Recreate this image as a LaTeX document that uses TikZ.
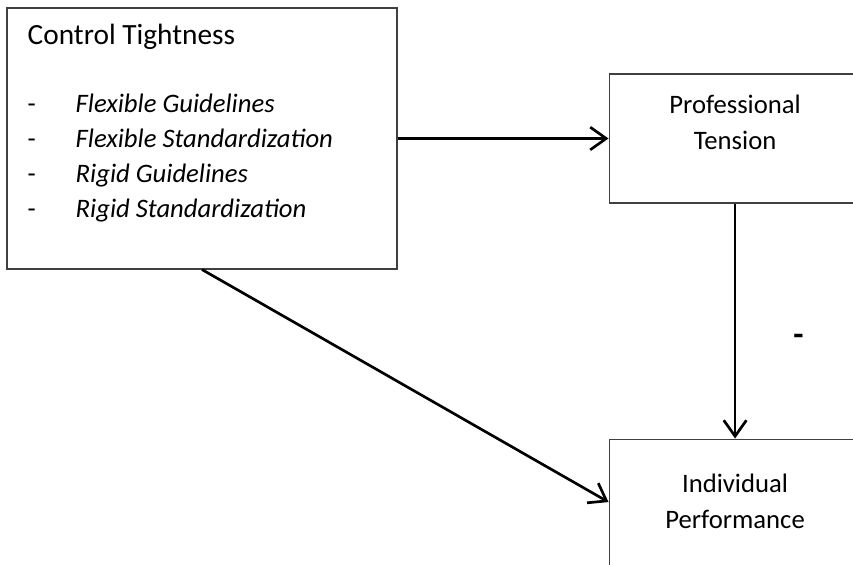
\documentclass[tikz,border=0pt]{standalone}
\usepackage{fontspec}
\setmainfont{Carlito}
\usetikzlibrary{positioning,arrows.meta}

\begin{document}
\begin{tikzpicture}[x=0.75pt, y=-0.75pt,
  box/.style={draw=black!75, line width=0.8pt, inner sep=0pt},
  ttl/.style={font=\fontsize{22}{26}\selectfont, inner sep=0pt},
  item/.style={font=\fontsize{20}{24}\selectfont, inner sep=0pt},
  lbl/.style={font=\fontsize{20}{27}\selectfont, align=center, inner sep=0pt},
  sign/.style={font=\fontsize{25}{28}\selectfont\bfseries, inner sep=0pt},
  arr/.style={-{Straight Barb[length=12pt, width=17pt, line width=2pt]}, line width=2pt}]
\clip (0,0) rectangle (853,564);
\node[box, minimum width=292.5pt, minimum height=195.75pt] (ct) at (202,138.5) {};
\node[box, minimum width=189pt, minimum height=96.75pt, right=158.25pt of ct] (pt) {};
\node[box, minimum width=189pt, minimum height=94.5pt, below=176.25pt of pt] (ip) {};
% text inside the boxes
\node[ttl, anchor=base west] (ctt) at ([shift={(21,37)}]ct.north west) {Control Tightness};
\foreach \t [count=\i from 0] in {Flexible Guidelines, Flexible Standardization,
    Rigid Guidelines, Rigid Standardization} {
  \node[item, anchor=base west] (d\i) at ([shift={(21,105+35*\i)}]ct.north west) {-};
  \node[item, anchor=base west] (it\i) at ([shift={(69,105+35*\i)}]ct.north west) {\textit{\t}};
}
\node[lbl, anchor=base] (ptl) at ([shift={(0,76)}]pt.north) {Professional\\Tension};
\node[lbl, anchor=base] (ipl) at ([shift={(0,90)}]ip.north) {Individual\\Performance};
% paths
\draw[arr] (ct.east) -- (pt.west);
\draw[arr] (pt.south) -- node[sign, pos=0.58, xshift=47.5pt] (neg) {-} (ip.north);
\draw[arr] (ct.south) -- (ip.west);
\end{tikzpicture}
\end{document}
